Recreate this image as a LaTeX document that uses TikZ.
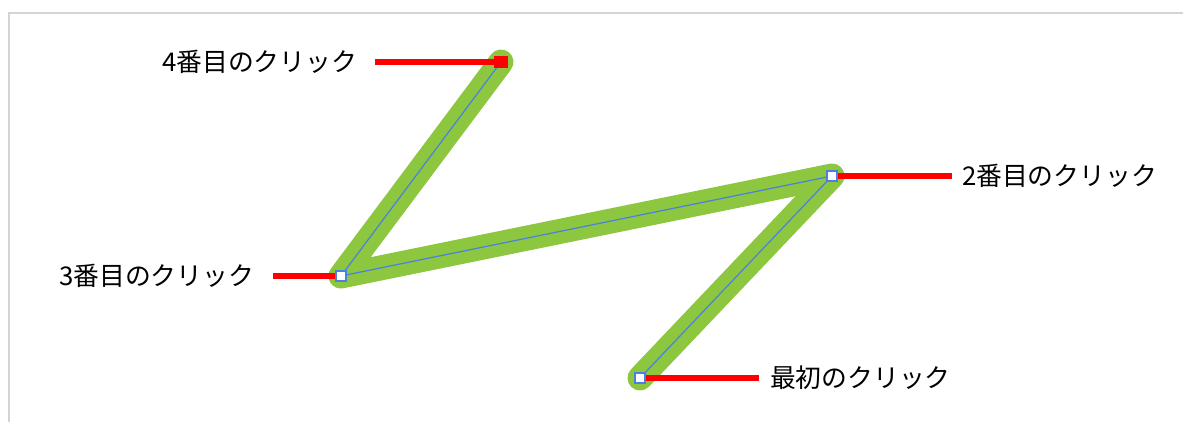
\documentclass[tikz,border=0pt]{standalone}
\usepackage{fontspec}
\setmainfont{Noto Sans CJK JP}
\usetikzlibrary{backgrounds}
\definecolor{clickgreen}{RGB}{141,198,63}
\definecolor{clickblue}{RGB}{74,128,226}
\definecolor{framegray}{RGB}{212,212,212}

\begin{document}
\begin{tikzpicture}[x=1pt, y=-1pt,
			clickpt/.style={rectangle, minimum size=10pt, inner sep=0pt, fill=white, draw=clickblue, line width=1.5pt},
			lastpt/.style={rectangle, minimum width=14pt, minimum height=12pt, inner sep=0pt, fill=red, draw=none},
			lbl/.style={inner sep=0pt, font=\fontsize{25.8}{30}\selectfont},
			redline/.style={red, line width=6.5pt},
			greenpath/.style={clickgreen, line width=25pt, line cap=round, line join=round},
			bluepath/.style={clickblue, line width=1.2pt, line join=round}]
			\useasboundingbox (0,0) rectangle (1183,422);
			\draw[framegray, line width=2pt] (1183,13) -- (9,13) -- (9,422);
			% click points
			\node[clickpt](c1) at (640,378){};
			\node[clickpt](c2) at (832,176){};
			\node[clickpt](c3) at (341,276){};
			\node[lastpt](c4) at (501,62){};
			\begin{scope}[on background layer]
			\draw[greenpath] (c1.center) -- (c2.center) -- (c3.center) -- (c4.center);
			\draw[bluepath] (c1.center) -- (c2.center) -- (c3.center) -- (c4.center);
			\end{scope}
			% labels
			\node[lbl, outer xsep=11pt, anchor=west](l1) at (759,378){最初のクリック};
			\node[lbl, outer xsep=10pt, anchor=west](l2) at (952,176){2番目のクリック};
			\node[lbl, outer xsep=19pt, anchor=east](l3) at (273,276){3番目のクリック};
			\node[lbl, outer xsep=18pt, anchor=east](l4) at (375,62){4番目のクリック};
			\draw[redline] (l1) -- (c1);
			\draw[redline] (l2) -- (c2);
			\draw[redline] (l3) -- (c3);
			\draw[redline] (l4) -- (c4);
\end{tikzpicture}
\end{document}
